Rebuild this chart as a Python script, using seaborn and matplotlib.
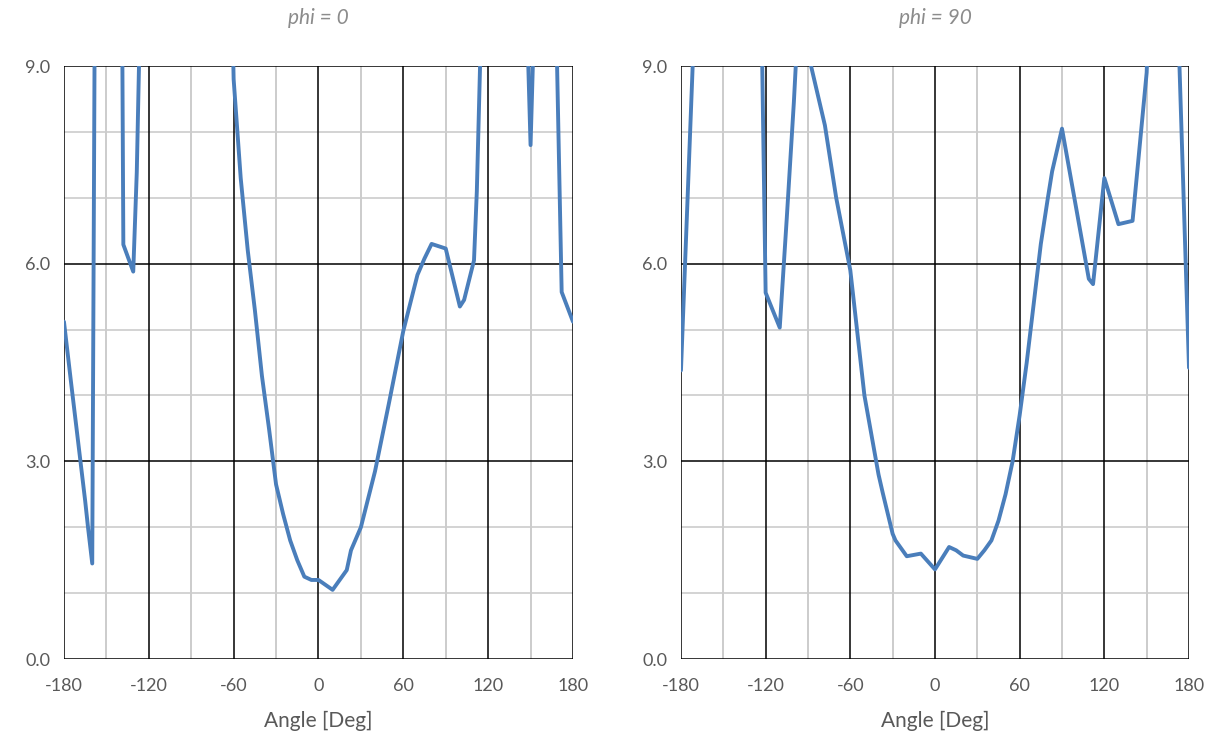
import numpy as np
import pandas as pd
import matplotlib
matplotlib.use("Agg")
import matplotlib.pyplot as plt
import seaborn as sns

# phi = 0 cut (values above 9 run off the top of the chart)
angle_phi0 = [-180, -175, -170, -165, -163, -160, -155, -145, -140, -138, -131, -128.5,
              -125, -63, -60, -55, -50, -45, -40, -35, -30, -25, -20, -15, -10, -5,
              0, 10, 20, 23, 30, 40, 50, 60, 70, 75, 80, 90, 100, 103, 110, 112,
              115, 148, 150, 152, 168, 172, 180]
value_phi0 = [5.12, 4.2, 3.3, 2.4, 2.0, 1.45, 25, 25, 14.4, 6.29, 5.88, 7.39,
              11, 12, 8.8, 7.3, 6.2, 5.3, 4.3, 3.5, 2.65, 2.2, 1.8, 1.5, 1.25, 1.2,
              1.2, 1.05, 1.35, 1.65, 2.0, 2.85, 3.9, 4.98, 5.83, 6.08, 6.3, 6.23, 5.35, 5.45, 6.05, 7.1,
              9.6, 9.3, 7.8, 9.3, 9.8, 5.57, 5.12]

# phi = 90 cut
angle_phi90 = [-180, -170, -125, -120, -110, -105, -100, -95, -90, -78, -70, -60, -50,
               -45, -40, -37, -30, -28, -20, -10, 0, 10, 15, 20, 30, 35, 40, 45, 50,
               55, 60, 65, 70, 75, 80, 83, 90, 100, 109, 112, 120, 130, 140, 150,
               155, 170, 180]
value_phi90 = [4.38, 9.95, 12.7, 5.56, 5.03, 6.7, 8.45, 10.5, 9.2, 8.1, 7.0, 5.9, 4.0,
               3.4, 2.8, 2.52, 1.9, 1.8, 1.56, 1.6, 1.36, 1.7, 1.65, 1.57, 1.52, 1.65, 1.8, 2.1, 2.5,
               3.0, 3.7, 4.5, 5.4, 6.3, 7.0, 7.4, 8.05, 6.85, 5.77, 5.69, 7.3, 6.6, 6.65, 8.9,
               12, 11.2, 4.42]

titles = ["phi = 0", "phi = 90"]
x_ticks = [-180, -120, -60, 0, 60, 120, 180]
y_ticks = [0, 3, 6, 9]

sns.set_style("white")
plt.rcParams['font.family'] = ['Lato', 'DejaVu Sans']
plt.rcParams['axes.unicode_minus'] = False

line_col = '#4a7ebb'
text_col = '#595959'

fig = plt.figure(figsize=(12.16, 7.37), dpi=100)
ax1 = fig.add_axes([0.0526, 0.1058, 0.4186, 0.8046])
ax2 = fig.add_axes([0.5600, 0.1058, 0.4178, 0.8046])

panels = [(ax1, angle_phi0, value_phi0), (ax2, angle_phi90, value_phi90)]
for i, (ax, ang, val) in enumerate(panels):
    df = pd.DataFrame({"angle": ang, "value": val})
    # minor / major grid
    for xv in range(-150, 180, 60):
        ax.axvline(xv, color='#c4c4c4', lw=1.2, zorder=0)
    for yv in [1, 2, 4, 5, 7, 8]:
        ax.axhline(yv, color='#cccccc', lw=1.2, zorder=0)
    for xv in x_ticks:
        ax.axvline(xv, color='black', lw=1.1, zorder=1)
    for yv in y_ticks:
        ax.axhline(yv, color='black', lw=1.1, zorder=1)

    sns.lineplot(data=df, x="angle", y="value", ax=ax, color=line_col,
                 lw=2.8, sort=False, zorder=3)

    ax.set_xlim(-180, 180)
    ax.set_ylim(0, 9)
    ax.set_xticks(x_ticks)
    ax.set_yticks(y_ticks)
    ax.set_yticklabels([f"{v:.1f}" for v in y_ticks])
    ax.tick_params(axis='y', length=6, width=1.1, color='black', pad=4,
                   labelsize=13, labelcolor=text_col)
    ax.tick_params(axis='x', length=0, pad=14, labelsize=13, labelcolor=text_col)
    for s in ax.spines.values():
        s.set_visible(False)
    ax.set_xlabel("Angle [Deg]", fontsize=15, color=text_col, labelpad=12)
    ax.set_ylabel("")
    ax.set_title(titles[i], fontsize=15, color='#8c8c8c', style='italic', pad=30)

fig.savefig("out.png", dpi=100)
